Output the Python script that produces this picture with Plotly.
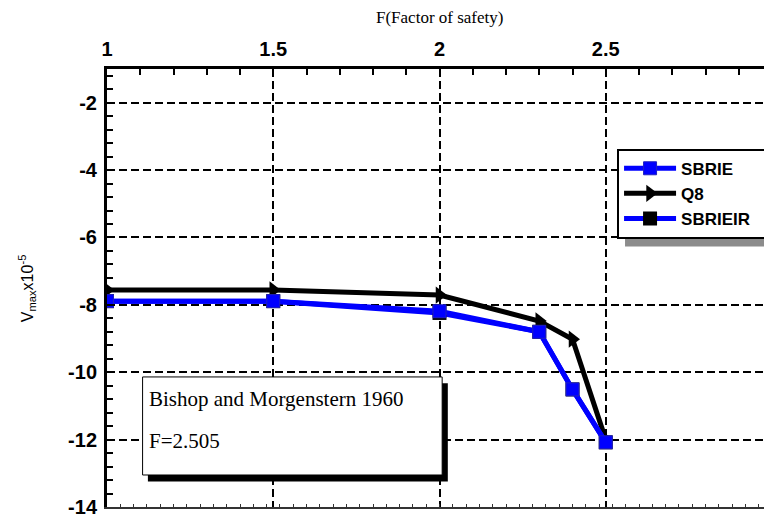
import plotly.graph_objects as go

# ---- data ----
F_vals = [1.0, 1.5, 2.0, 2.3, 2.4, 2.5]
sbrie = [-7.89, -7.89, -8.19, -8.80, -10.51, -12.08]
q8 = [-7.56, -7.56, -7.71, -8.48, -9.02, -12.0]
sbrieir = [-7.89, -7.89, -8.24, -8.80, -10.51, -12.08]

series_names = ["SBRIE", "Q8", "SBRIEIR"]

x_tickvals = [1, 1.5, 2, 2.5, 3]
x_ticktext = ["1", "1.5", "2", "2.5", "3"]
y_tickvals = [-2, -4, -6, -8, -10, -12, -14]
y_ticktext = ["-2", "-4", "-6", "-8", "-10", "-12", "-14"]

SANS = "Liberation Sans, Arial, sans-serif"
SERIF = "Liberation Serif, Times New Roman, serif"
PAD = "\u00a0" * 4  # legend box runs past the right edge, as in the original

fig = go.Figure()

fig.add_trace(go.Scatter(
    x=F_vals, y=q8, name=series_names[1], mode="lines+markers", legendrank=2,
    line=dict(color="black", width=5),
    marker=dict(symbol="triangle-right", size=15, color="black"),
))
fig.add_trace(go.Scatter(
    x=F_vals, y=sbrieir, name=series_names[2] + PAD, mode="lines+markers", legendrank=3,
    line=dict(color="#0000ff", width=5),
    marker=dict(symbol="square", size=14, color="black"),
))
fig.add_trace(go.Scatter(
    x=F_vals, y=sbrie, name=series_names[0], mode="lines+markers", legendrank=1,
    line=dict(color="#0000ff", width=5),
    marker=dict(symbol="square", size=13, color="#0000ff",
                line=dict(color="#2020c0", width=1)),
))

# bottom frame with fine ticks
fig.add_trace(go.Scatter(x=[None], y=[None], xaxis="x2", showlegend=False))

grid_common = dict(showgrid=True, gridcolor="black", gridwidth=2, griddash="8px,4px")

fig.update_layout(
    width=764, height=506,
    margin=dict(l=99, r=0, t=61, b=7, autoexpand=False),
    paper_bgcolor="white", plot_bgcolor="white",
    xaxis=dict(
        range=[1, 3], side="top", tickmode="array",
        tickvals=x_tickvals, ticktext=x_ticktext,
        tickfont=dict(family=SANS, size=20, color="black", weight="bold"),
        ticks="inside", ticklen=8, tickwidth=2, tickcolor="black",
        ticklabelstandoff=2, ticklabeloverflow="allow",
        showline=True, linecolor="black", linewidth=3,
        zeroline=False,
        minor=dict(tickmode="linear", tick0=1, dtick=0.1, ticks="inside",
                   ticklen=6, tickwidth=1.5, tickcolor="black", showgrid=False),
        **grid_common,
    ),
    xaxis2=dict(
        range=[1, 3], overlaying="x", side="bottom", anchor="y",
        showticklabels=False, showgrid=False, zeroline=False,
        tickmode="linear", tick0=1, dtick=0.04, ticks="inside",
        ticklen=3, tickwidth=1, tickcolor="#333333",
        showline=True, linecolor="#333333", linewidth=2,
    ),
    yaxis=dict(
        range=[-14, -1], tickmode="array",
        tickvals=y_tickvals, ticktext=y_ticktext,
        tickfont=dict(family=SANS, size=20, color="black", weight="bold"),
        ticks="inside", ticklen=8, tickwidth=2, tickcolor="black",
        ticklabelstandoff=3, ticklabeloverflow="allow",
        showline=True, linecolor="black", linewidth=3,
        zeroline=False,
        minor=dict(tickmode="linear", tick0=0, dtick=0.4, ticks="inside",
                   ticklen=6, tickwidth=1.5, tickcolor="black", showgrid=False),
        **grid_common,
    ),
    legend=dict(
        x=0.767, y=0.818, xanchor="left", yanchor="top",
        bgcolor="white", bordercolor="black", borderwidth=2,
        font=dict(family=SANS, size=17, color="black", weight="bold"),
        tracegroupgap=0, itemwidth=52,
    ),
    showlegend=True,
)

# legend shadow
fig.add_shape(type="rect", xref="paper", yref="paper",
              x0=0.779, x1=1.05, y0=0.595, y1=0.79,
              fillcolor="#8c8c8c", line=dict(width=0), layer="above")

# annotation box with shadow
fig.add_shape(type="rect", xref="x", yref="y",
              x0=1.123, x1=2.025, y0=-13.24, y1=-10.33,
              fillcolor="black", line=dict(width=0), layer="above")
fig.add_shape(type="rect", xref="x", yref="y",
              x0=1.107, x1=2.008, y0=-13.05, y1=-10.14,
              fillcolor="white", line=dict(color="black", width=1), layer="above")

fig.add_annotation(xref="x", yref="y", x=1.121, y=-10.78, xanchor="left", yanchor="middle",
                   text="Bishop and Morgenstern 1960", showarrow=False,
                   font=dict(family=SERIF, size=21, color="black"))
fig.add_annotation(xref="x", yref="y", x=1.121, y=-12.05, xanchor="left", yanchor="middle",
                   text="F=2.505", showarrow=False,
                   font=dict(family=SERIF, size=21, color="black"))

# axis titles
fig.add_annotation(xref="paper", yref="paper", x=0.5, y=1.1165, xanchor="center", yanchor="middle",
                   text="F(Factor of safety)", showarrow=False,
                   font=dict(family=SERIF, size=17, color="black"))
fig.add_annotation(xref="paper", yref="paper", x=-0.120, y=0.5, xanchor="center", yanchor="middle",
                   text="V<sub>max</sub>x10<sup>-5</sup>", textangle=-90, showarrow=False,
                   font=dict(family=SANS, size=16, color="black"))

fig.write_html("out.html")
